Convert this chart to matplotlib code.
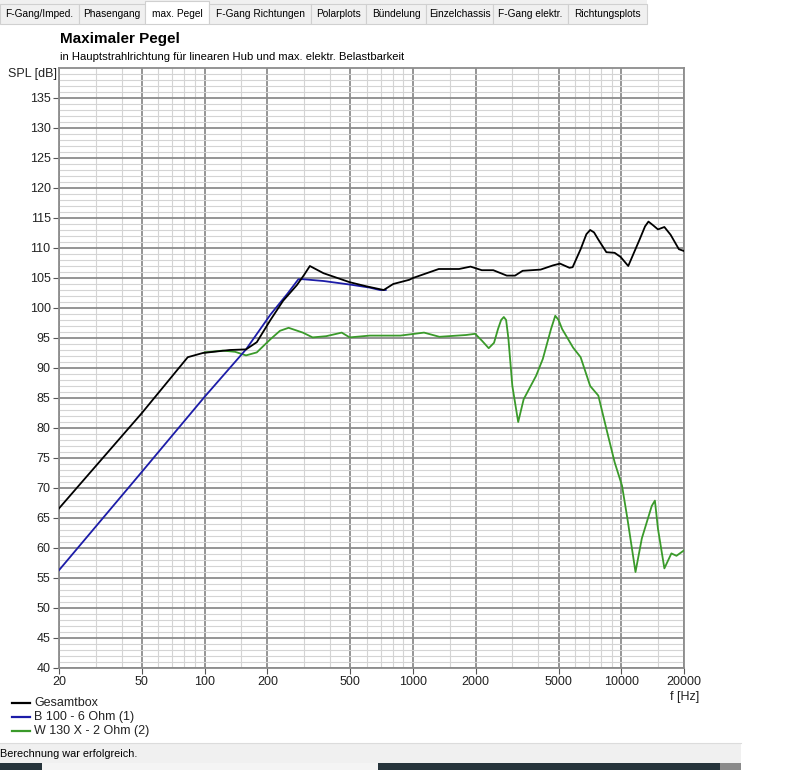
import matplotlib.pyplot as plt
from matplotlib.patches import Rectangle
from matplotlib.lines import Line2D
from matplotlib.ticker import FixedLocator, NullFormatter

plt.rcParams['font.family'] = ['Liberation Sans', 'DejaVu Sans']

# Gesamtbox (black)
f_total = [20, 50, 83, 98, 132, 158, 178, 207, 238, 277, 300, 320, 372, 497, 600,
           724, 804, 960, 1000, 1330, 1665, 1890, 2140, 2430, 2820, 3090, 3360,
           4100, 4700, 5080, 5640, 5840, 6380, 6800, 7090, 7400, 7760, 8480, 9290,
           9930, 10800, 12240, 13000, 13500, 14200, 15000, 16100, 17250, 18900, 20000]
spl_total = [66.6, 82.5, 91.8, 92.5, 93.0, 93.1, 94.3, 98.0, 101.2, 103.8, 105.5,
             107.0, 105.8, 104.3, 103.6, 103.0, 104.0, 104.7, 105.0, 106.5, 106.5,
             106.9, 106.3, 106.3, 105.4, 105.4, 106.2, 106.4, 107.1, 107.4, 106.7,
             106.8, 109.8, 112.3, 113.0, 112.6, 111.4, 109.3, 109.2, 108.5, 107.0,
             111.4, 113.6, 114.4, 113.8, 113.1, 113.5, 112.2, 109.8, 109.5]

# B 100 - 6 Ohm (1) (blue)
f_b100 = [20, 50, 100, 158, 207, 250, 282, 296, 372, 431, 500, 620, 693, 740]
spl_b100 = [56.3, 72.7, 85.2, 93.1, 98.9, 102.4, 104.8, 104.8, 104.5, 104.2,
            103.9, 103.4, 103.0, 103.0]

# W 130 X - 2 Ohm (2) (green)
f_w130 = [100, 122, 140, 158, 178, 207, 230, 253, 296, 330, 383, 430, 455, 497,
          620, 870, 1130, 1340, 1800, 1990, 2150, 2310, 2450, 2560, 2650, 2730, 2800,
          2870, 3000, 3200, 3400, 3900, 4200, 4600, 4820, 5000, 5200, 5870, 6380, 7090,
          7760, 8490, 9290, 10080, 10700, 11700, 12550, 14000, 14500, 15000, 16100,
          17400, 18400, 20000]
spl_w130 = [92.6, 92.9, 92.7, 92.1, 92.6, 94.8, 96.2, 96.7, 95.9, 95.1, 95.3, 95.7,
            95.9, 95.1, 95.4, 95.4, 95.9, 95.2, 95.5, 95.7, 94.5, 93.3, 94.2, 96.5,
            98.0, 98.5, 98.0, 95.0, 87.0, 81.0, 84.8, 88.7, 91.5, 96.5, 98.7, 98.0,
            96.5, 93.4, 91.8, 87.0, 85.4, 79.8, 74.3, 70.4, 64.9, 56.0, 61.6, 67.0,
            67.9, 63.2, 56.6, 59.1, 58.7, 59.6]

x_major = [20, 50, 100, 200, 500, 1000, 2000, 5000, 10000, 20000]
x_minor = [30, 40, 60, 70, 80, 90, 150, 300, 400, 600, 700, 800, 900, 1500,
           3000, 4000, 6000, 7000, 8000, 9000, 15000]
y_major = list(range(40, 140, 5))

tabs = ["F-Gang/Imped.", "Phasengang", "max. Pegel", "F-Gang Richtungen", "Polarplots",
        "Bündelung", "Einzelchassis", "F-Gang elektr.", "Richtungsplots"]
tab_edges = [0, 79, 145, 209, 311, 366, 426, 493, 568, 647]

W, H = 800, 770
fig = plt.figure(figsize=(W / 100, H / 100), dpi=100)


def px(x, y):
    return x / W, 1 - y / H


# tab bar
fig.patches.append(Rectangle(px(0, 24), 647 / W, 24 / H, transform=fig.transFigure,
                             facecolor='#f0f0f0', edgecolor='none'))
for i, name in enumerate(tabs):
    x0, x1 = tab_edges[i], tab_edges[i + 1]
    sel = name == "max. Pegel"
    y_top = 1 if sel else 4
    fig.patches.append(Rectangle(px(x0, 24), (x1 - x0) / W, (24 - y_top) / H,
                                 transform=fig.transFigure,
                                 facecolor='white' if sel else '#f0f0f0',
                                 edgecolor='#d0d0d0', lw=0.8))
    fig.text(*px((x0 + x1) / 2, 14), name, ha='center', va='center', fontsize=7.3,
             color='#000000')

# title
fig.text(*px(60, 39), "Maximaler Pegel", fontsize=11, fontweight='bold', va='center')
fig.text(*px(60, 57), "in Hauptstrahlrichtung für linearen Hub und max. elektr. Belastbarkeit",
         fontsize=8.1, va='center')

ax = fig.add_axes([59 / W, 1 - 668 / H, 625 / W, 600 / H])
ax.set_xscale('log')
ax.set_xlim(20, 20000)
ax.set_ylim(40, 140)

ax.xaxis.set_major_locator(FixedLocator(x_major))
ax.xaxis.set_minor_locator(FixedLocator(x_minor))
ax.set_xticks(x_major)
ax.set_xticklabels([str(v) for v in x_major])
ax.xaxis.set_minor_formatter(NullFormatter())
ax.yaxis.set_major_locator(FixedLocator(y_major))
ax.yaxis.set_minor_locator(FixedLocator([v for v in range(40, 141) if v % 5]))

ax.grid(which='major', color='#8c8c8c', lw=1.3)
ax.grid(which='minor', color='#d4d4d4', lw=0.8)
ax.set_axisbelow(True)
ax.tick_params(which='major', length=4, color='#555555', labelsize=9, labelcolor='#222222', pad=2)
ax.tick_params(which='minor', length=0)
for s in ax.spines.values():
    s.set_color('#8c8c8c')
    s.set_linewidth(1.3)

ax.plot(f_w130, spl_w130, color='#3a9a2a', lw=1.3, zorder=3)
ax.plot(f_b100, spl_b100, color='#1c1ca8', lw=1.3, zorder=4)
ax.plot(f_total, spl_total, color='#000000', lw=1.3, zorder=5)

fig.text(*px(57, 74), "SPL [dB]", ha='right', va='center', fontsize=9, color='#222222')
fig.text(*px(685, 697), "f [Hz]", ha='center', va='center', fontsize=9, color='#222222')

# legend
legend_items = [("Gesamtbox", '#000000'), ("B 100 - 6 Ohm (1)", '#1c1ca8'),
                ("W 130 X - 2 Ohm (2)", '#3a9a2a')]
for i, (lab, col) in enumerate(legend_items):
    yy = 703 + 14 * i
    fig.lines.append(Line2D([12 / W, 30 / W], [1 - yy / H] * 2, transform=fig.transFigure,
                            color=col, lw=1.6))
    fig.text(*px(34, yy), lab, va='center', fontsize=9, color='#222222')

# status bar
fig.patches.append(Rectangle(px(0, 763), 741 / W, 20 / H, transform=fig.transFigure,
                             facecolor='#f0f0f0', edgecolor='none'))
fig.lines.append(Line2D([0, 741 / W], [1 - 743 / H] * 2, transform=fig.transFigure,
                        color='#dcdcdc', lw=0.8))
fig.text(*px(0, 754), "Berechnung war erfolgreich.", va='center', fontsize=7.8)
for x0, x1, c in [(0, 42, '#26343b'), (42, 378, '#f4f4f4'), (378, 720, '#26343b'),
                  (720, 741, '#8a8a8a')]:
    fig.patches.append(Rectangle(px(x0, 770), (x1 - x0) / W, 7 / H, transform=fig.transFigure,
                                 facecolor=c, edgecolor='none'))

fig.savefig('out.png', dpi=100)
